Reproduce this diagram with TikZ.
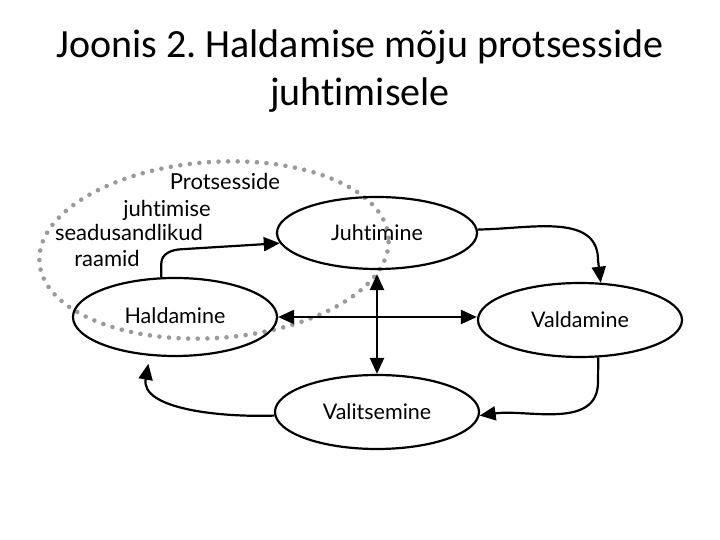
\documentclass[tikz,border=0pt]{standalone}
\usepackage{fontspec}
\setmainfont{Carlito}[Ligatures=NoCommon]
\newfontfamily\labelfont{Lato}[Ligatures=NoCommon]
\usetikzlibrary{shapes.geometric,arrows.meta}
\definecolor{dotgray}{HTML}{9A9A9A}
\tikzset{
  phase/.style={draw=black, line width=2.2pt, ellipse, inner sep=0pt, font=\labelfont\fontsize{21.5}{24}\selectfont},
  arr/.style={draw=black, line width=2.2pt, -{Triangle[length=16pt,width=14pt]}},
  darr/.style={draw=black, line width=2.2pt, {Triangle[length=16pt,width=14pt]}-{Triangle[length=16pt,width=14pt]}},
  dots/.style={draw=dotgray, line width=4.6pt, line cap=round, dash pattern=on 0pt off 9.6pt},
  lbl/.style={font=\labelfont\fontsize{22}{24}\selectfont, anchor=base, inner sep=0pt},
  ttl/.style={font=\fontsize{40}{48}\selectfont, anchor=base, inner sep=0pt}
}
\frenchspacing
\begin{document}
\begin{tikzpicture}[x=1pt,y=1pt]
\useasboundingbox (0,0) rectangle (720,540);
% title
\node[ttl] (t1) at (360,482) {Joonis 2. Haldamise mõju protsesside};
\node[ttl] (t2) at (360,434) {juhtimisele};
% dotted frame
\draw[dots, rotate around={4:(214,290)}] (214,290) ellipse [x radius=175, y radius=88];
% frame text
\node[lbl] (p1) at (225,350) {Protsesside};
\node[lbl] (p2) at (167,323) {juhtimise};
\node[lbl] (p3) at (129,299) {seadusandlikud};
\node[lbl] (p4) at (107,273) {raamid};
% phases
\node[phase, minimum width=200pt, minimum height=72pt] (J) at (377,307) {Juhtimine};
\node[phase, minimum width=204pt, minimum height=74pt] (V) at (580,220) {Valdamine};
\node[phase, minimum width=204pt, minimum height=78pt, text depth=2pt] (H) at (175,223) {Haldamine};
\node[phase, minimum width=204pt, minimum height=74pt] (S) at (377,128) {Valitsemine};
% connectors
\draw[arr] (H.109) -- ++(0,14) to[out=90,in=182] ++(20,14) -- (J.186);
\draw[arr] (J.2) to[out=0,in=90] (598,280) -- (V.61);
\draw[arr] (V.296) -- (598,158) to[out=-90,in=8] (S.358);
\draw[arr, shorten >=8pt] (S.182) to[out=182,in=-100] (H.237);
\draw[darr] (H.east) -- (H.east -| V.west);
\draw[darr, shorten <=4pt] (J.south) -- (S.north);
\end{tikzpicture}
\end{document}
